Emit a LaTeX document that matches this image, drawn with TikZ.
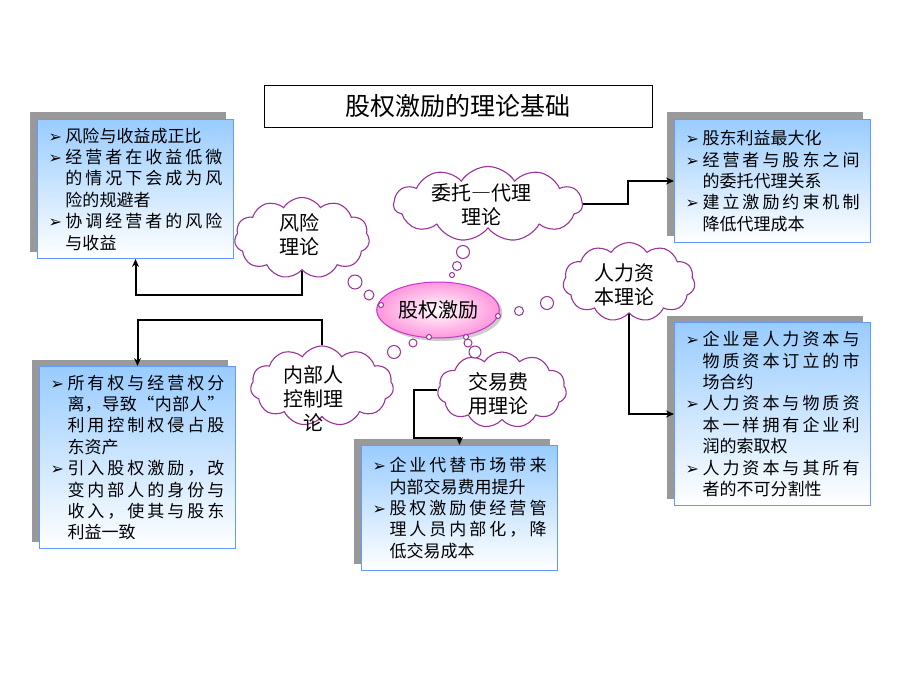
\documentclass[tikz,border=0pt]{standalone}
\usepackage{fontspec}
\setmainfont{Noto Sans CJK SC}
\newfontfamily\dejavu{DejaVu Sans}
\usetikzlibrary{shapes.geometric,shapes.symbols,shadows,arrows.meta}
\definecolor{boxblue}{RGB}{153,204,255}
\definecolor{boxline}{RGB}{102,153,255}
\definecolor{boxgray}{RGB}{153,153,153}
\definecolor{cloudline}{RGB}{153,51,153}
\definecolor{hubline}{RGB}{204,51,204}
\definecolor{hubpink}{RGB}{255,150,220}
% lines that fill the box are spread char by char
\newlength\linew \setlength\linew{157pt}
\newcommand\spread[1]{\hbox to\linew{\spreadA#1\relax}}
\def\spreadA#1{#1\spreadB}
\def\spreadB#1{\ifx\relax#1\else\hfil#1\expandafter\spreadB\fi}
\newcommand\bul{\makebox[17pt][l]{\dejavu\fontsize{16}{16}\selectfont ➢}}
\newcommand\ind{\makebox[17pt]{}}
\begin{document}
\begin{tikzpicture}[x=1pt, y=-1pt,
	textbox/.style = {draw=boxline, line width=1pt, top color=boxblue, bottom color=white,
		minimum width=196pt, inner sep=0pt, anchor=north west, align=left,
		font=\fontsize{17}{21.4}\selectfont,
		drop shadow={shadow xshift=-8pt, shadow yshift=7pt, fill=boxgray, opacity=1}},
	cloudy/.style = {cloud, cloud puffs=11, cloud puff arc=115, cloud ignores aspect,
		draw=cloudline, line width=1.1pt, fill=white, inner sep=0pt},
	cloudtxt/.style = {align=center, font=\fontsize{20}{24}\selectfont},
	hub/.style = {ellipse, draw=hubline, line width=1pt, inner color=white, outer color=hubpink,
		minimum width=119pt, minimum height=56pt, font=\fontsize{20}{24}\selectfont,
		drop shadow={shadow xshift=3pt, shadow yshift=-3pt, opacity=.4}},
	bubble/.style = {draw=cloudline, line width=1pt, fill=white},
	conn/.style = {line width=2pt, -{Stealth[length=8pt, width=7pt]}}]
	\useasboundingbox (0,0) rectangle (920,690);
	\node[draw, line width=0.8pt, minimum width=388pt, minimum height=42pt,
		font=\fontsize{25}{30}\selectfont] (title) at (458,106) {股权激励的理论基础};
	% boxes
	\node[textbox, minimum height=139pt] (lt) at (37,119) {%
		\bul 风险与收益成正比\\
		\bul\spread{经营者在收益低微}\\
		\ind\spread{的情况下会成为风}\\
		\ind 险的规避者\\
		\bul\spread{协调经营者的风险}\\
		\ind 与收益};
	\node[textbox, minimum height=123pt] (rt) at (674,119) {%
		\bul 股东利益最大化\\
		\bul\spread{经营者与股东之间}\\
		\ind 的委托代理关系\\
		\bul\spread{建立激励约束机制}\\
		\ind 降低代理成本};
	\node[textbox, minimum height=182pt] (lb) at (39,366) {%
		\bul\spread{所有权与经营权分}\\
		\ind\spread{离，导致“内部人”}\\
		\ind\spread{利用控制权侵占股}\\
		\ind 东资产\\
		\bul\spread{引入股权激励，改}\\
		\ind\spread{变内部人的身份与}\\
		\ind\spread{收入，使其与股东}\\
		\ind 利益一致};
	\node[textbox, minimum height=125pt] (mb) at (361,445) {%
		\bul\spread{企业代替市场带来}\\
		\ind 内部交易费用提升\\
		\bul\spread{股权激励使经营管}\\
		\ind\spread{理人员内部化，降}\\
		\ind 低交易成本};
	\node[textbox, minimum height=183pt] (rb) at (674,322) {%
		\bul\spread{企业是人力资本与}\\
		\ind\spread{物质资本订立的市}\\
		\ind 场合约\\
		\bul\spread{人力资本与物质资}\\
		\ind\spread{本一样拥有企业利}\\
		\ind 润的索取权\\
		\bul\spread{人力资本与其所有}\\
		\ind 者的不可分割性};
	% clouds
	\node[cloudy, minimum width=135pt, minimum height=81pt] (risk) at (302,238) {};
	\node[cloudy, minimum width=189pt, minimum height=75pt] (agency) at (488,204) {};
	\node[cloudy, minimum width=132pt, minimum height=79pt] (human) at (629,282) {};
	\node[cloudy, minimum width=143pt, minimum height=80pt] (insider) at (322,386) {};
	\node[cloudy, minimum width=129pt, minimum height=76pt] (trans) at (502,390) {};
	\node[cloudtxt] (riskT) at (299,235) {风险\\理论};
	\node[cloudtxt] (agencyT) at (481,205) {委托{\addfontfeature{RawFeature=+fwid}—}代理\\理论};
	\node[cloudtxt] (humanT) at (624,285) {人力资\\本理论};
	\node[cloudtxt] (insiderT) at (313,399) {内部人\\控制理\\论};
	\node[cloudtxt] (transT) at (498,394) {交易费\\用理论};
	% connectors
	\draw[conn] (risk.south) -- ++(0,24) -| (lt.south);
	\draw[conn] (insider.north) -- ++(0,-25) -| (lb.north);
	\draw[conn] (agency.east) -- ++(45,0) |- (rt.west);
	\draw[conn] (human.south) |- (rb.west);
	\draw[conn] (trans.west) -- ++(-23,0) |- ([yshift=7pt]mb.north) -- (mb.north);
	% centre
	\node[hub] (hub) at (438,310) {股权激励};
	\foreach \x/\y/\r in {355/282/7, 369/295/5, 463/252/6.5, 457/266/4.5, 452/275/2.5,
		519/311/4.5, 547/303/6.5, 413/343/4, 394/352/6.5, 468/343/4, 475/352/6,
		381/305/2.5, 498/316/2.5, 429/337/2.5, 466/337/2.5}
		\draw[bubble] (\x,\y) circle [radius=\r pt];
\end{tikzpicture}
\end{document}
